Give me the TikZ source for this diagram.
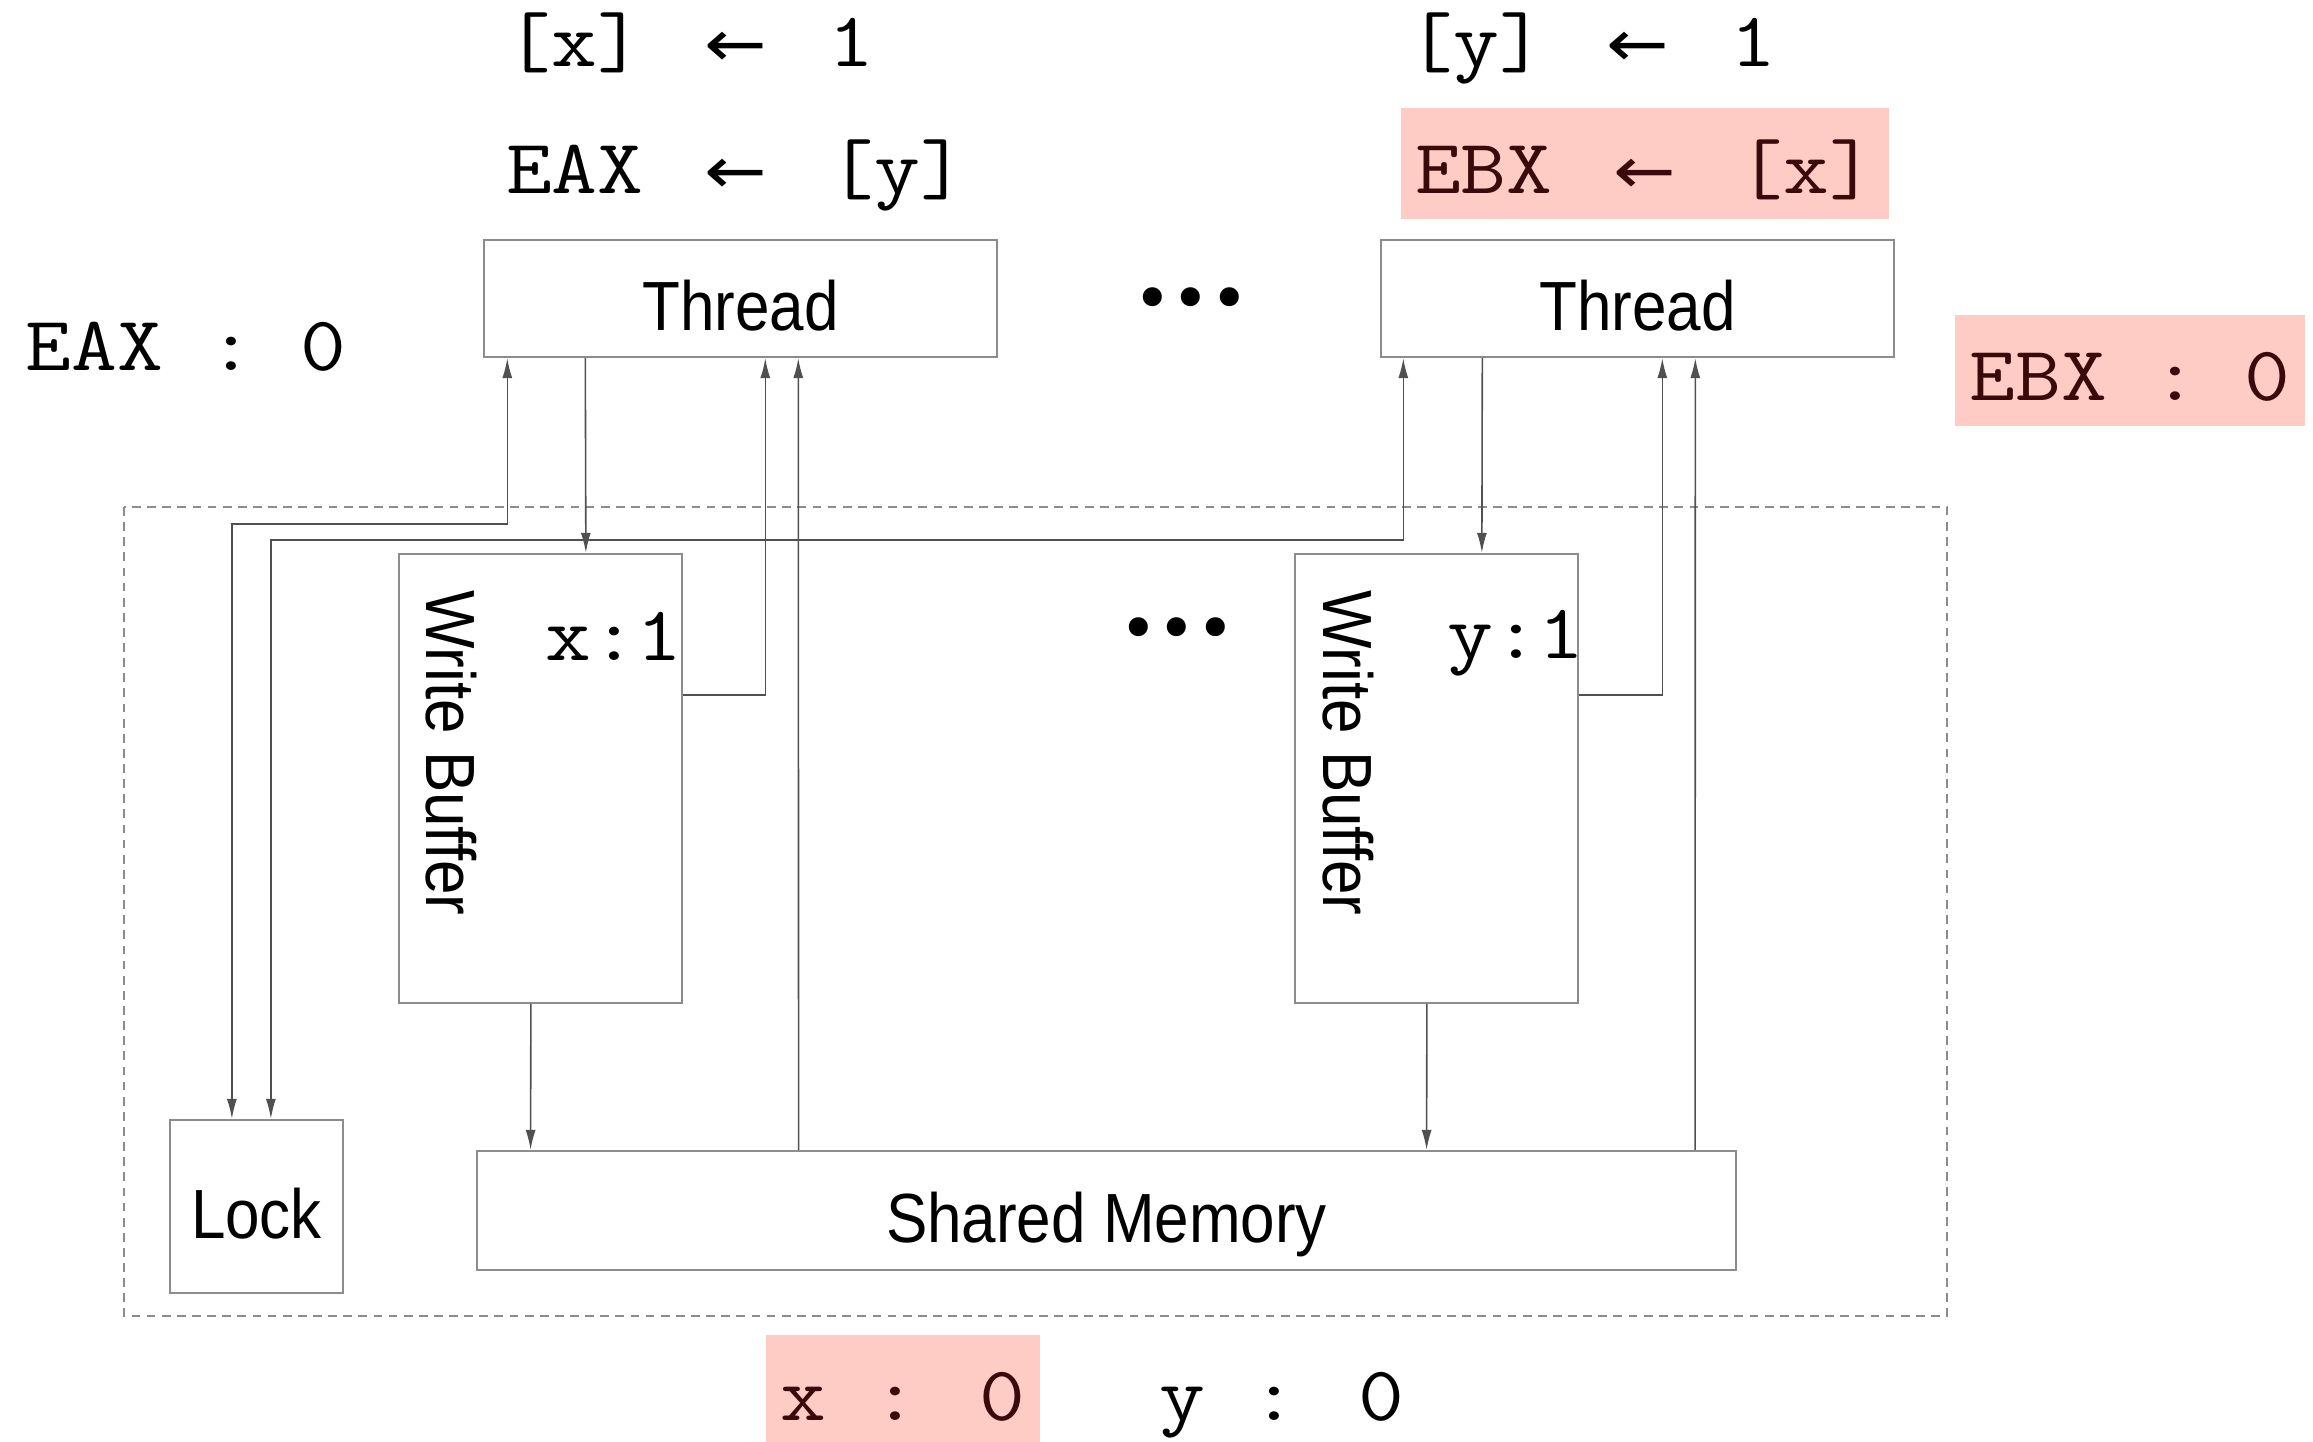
\documentclass[tikz,border=0pt]{standalone}
\usepackage{fontspec}
\newfontfamily\sansfont[FakeStretch=0.89]{Liberation Sans}
\newfontfamily\symfont{DejaVu Sans}
\usetikzlibrary{arrows.meta,calc}
\definecolor{hlpink}{HTML}{FFCCC5}
\definecolor{hltext}{HTML}{3A0A0A}
\definecolor{boxgray}{HTML}{8C8C8C}
\definecolor{wiregray}{HTML}{505050}
\newcommand{\la}{\makebox[1.05em]{\symfont\fontsize{18.5}{20}\selectfont ←}}
\tikzset{
  unitfont/.style={font=\sansfont\fontsize{19.8}{24}\selectfont},
  unit/.style={unitfont, draw=boxgray, line width=0.6pt, fill=white, inner sep=0pt,
               text height=0.63cm, text depth=0cm},
  unitlbl/.style={unitfont, inner sep=0pt, rotate=-90},
  asm/.style={anchor=base, inner sep=0pt, xscale=1.15, font=\ttfamily\fontsize{22}{26}\selectfont},
  hl/.style={asm, fill=hlpink, text=hltext, inner xsep=0.125cm,
             text height=0.85cm, text depth=0.26cm},
  ellip/.style={font=\symfont\fontsize{18.6}{22}\selectfont, inner sep=0pt},
  link/.style={draw=wiregray, line width=0.45pt, >={Latex[length=2mm,width=1mm]}},
  sysframe/.style={draw=boxgray, line width=0.6pt, dash pattern=on 2.5pt off 1.8pt},
}
\begin{document}
\begin{tikzpicture}[x=0.01cm, y=-0.01cm]
  \useasboundingbox (0,0) rectangle (2313,1441);
  \draw[sysframe] (124,507) rectangle (1947,1316);

  \node[unit, minimum width=5.12cm, minimum height=1.17cm] (th1) at (740.5,298.5) {Thread};
  \node[unit, minimum width=5.12cm, minimum height=1.17cm] (th2) at (1637.5,298.5) {Thread};
  \node[unit, minimum width=2.83cm, minimum height=4.49cm] (wb1) at (540.5,778.5) {};
  \node[unit, minimum width=2.83cm, minimum height=4.49cm] (wb2) at (1436.5,778.5) {};
  \node[unitlbl] (wb1lbl) at (451,753) {Write Buffer};
  \node[unitlbl] (wb2lbl) at (1348.5,753) {Write Buffer};
  \node[unit, minimum size=1.73cm] (lock) at (256.5,1206.5) {Lock};
  \node[unit, minimum width=12.59cm, minimum height=1.19cm] (mem) at (1106.5,1210.5) {Shared Memory};

  \node[asm] (prog1a) at (690,66) {[x] \la{} 1};
  \node[asm] (prog1b) at (736,193) {EAX \la{} [y]};
  \node[asm] (prog2a) at (1592,66) {[y] \la{} 1};
  \node[hl] (prog2b) at (1645,193) {EBX \la{} [x]};
  \node[asm] (reg1) at (186,370) {EAX : 0};
  \node[hl] (reg2) at (2130,400) {EBX : 0};
  \node[asm] (buf1) at (614,660) {x:1};
  \node[asm] (buf2) at (1516,658) {y:1};
  \node[hl] (memx) at (903,1420) {x : 0};
  \node[asm] (memy) at (1282,1420) {y : 0};
  \node[ellip] (dots1) at (1191,305) {•••};
  \node[ellip] (dots2) at (1177,635) {•••};

  \draw[link,<->] ($(th1.south west)+(24,0)$) -- ++(0,166) -| ($(lock.north west)+(63,0)$);
  \draw[link,<->] ($(th2.south west)+(23,0)$) -- ++(0,182) -| ($(lock.north west)+(102,0)$);
  \foreach \t/\w/\a/\b in {th1/wb1/323/55, th2/wb2/1219.5/951} {
    \draw[link,->] ($(\t.south west)+(102,0)$) -- ($(\w.north west)+(188,0)$);
    \draw[link,->] ($(\w.north east)+(0,142)$) -| ($(\t.south west)+(282,0)$);
    \draw[link,->] ($(mem.north west)+(\a,0)$) -- ($(\t.south west)+(315,0)$);
    \draw[link,->] ($(\w.south west)+(133,0)$) -- ($(mem.north west)+(\b,0)$);
  }
\end{tikzpicture}
\end{document}
